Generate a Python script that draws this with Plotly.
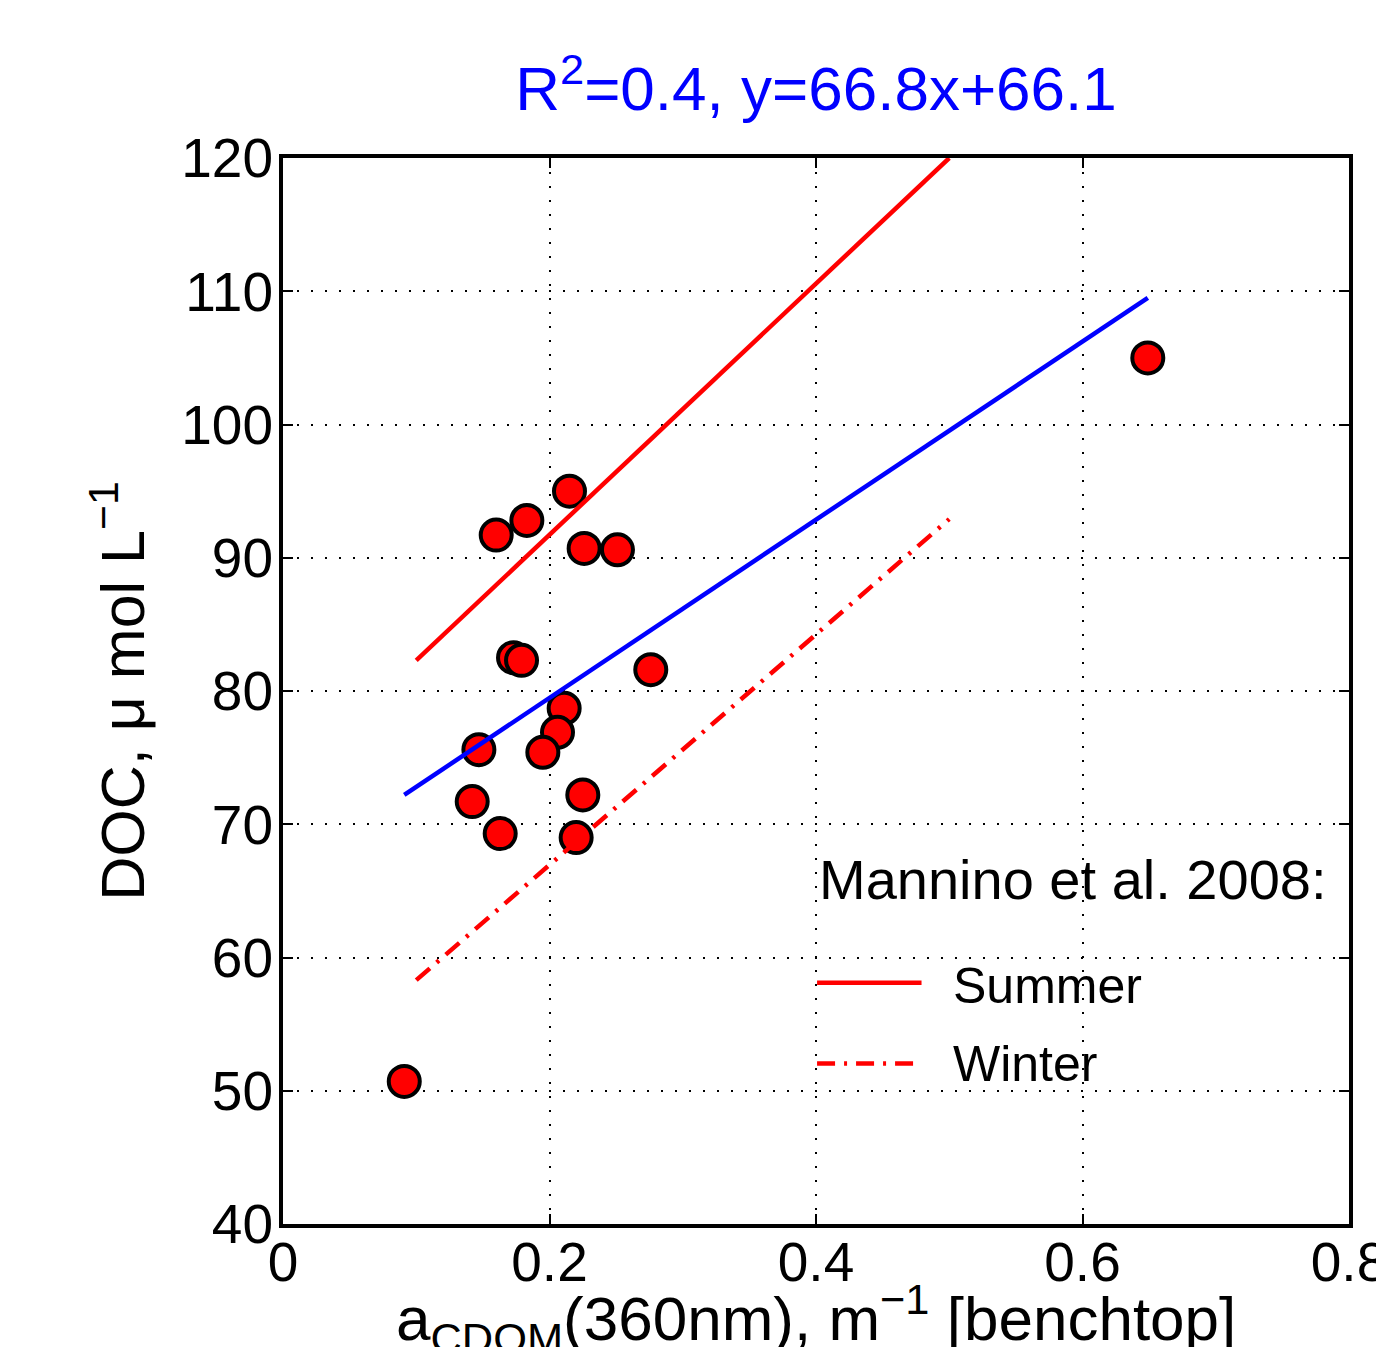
import plotly.graph_objects as go

# Observed data: a_CDOM(360nm) [m^-1] vs DOC [umol/L]
acdom = [0.091, 0.649, 0.215, 0.160, 0.183, 0.226, 0.251, 0.173, 0.179, 0.276,
         0.211, 0.206, 0.195, 0.147, 0.142, 0.225, 0.163, 0.220]
doc = [50.7, 105.0, 95.0, 91.7, 92.8, 90.7, 90.6, 82.5, 82.3, 81.6,
       78.7, 76.9, 75.4, 75.6, 71.7, 72.2, 69.3, 69.0]

# Regression line endpoints (y = 66.8x + 66.1)
fit_x = [0.091, 0.649]
fit_y = [72.2, 109.5]

# Mannino et al. 2008 relationships
mannino_x = [0.1, 0.5]
summer_y = [82.3, 120.0]
winter_y = [58.3, 92.9]

x_ticks = [0, 0.2, 0.4, 0.6, 0.8]
x_ticklabels = ["0", "0.2", "0.4", "0.6", "0.8"]
y_ticks = [40, 50, 60, 70, 80, 90, 100, 110, 120]

FONT = "Liberation Sans, Arial, Helvetica, sans-serif"
DASHDOT = "18px,9px,3px,9px"

# page has an 8px body margin; figure size compensates for it
W, H = 1376, 1339

fig = go.Figure()
fig.add_trace(go.Scatter(
    x=acdom, y=doc, mode="markers", name="Data", showlegend=False,
    marker=dict(size=31, color="#ff0000", line=dict(color="black", width=4)),
))
fig.add_trace(go.Scatter(
    x=mannino_x, y=summer_y, mode="lines", name="Summer", showlegend=False,
    line=dict(color="#ff0000", width=4.5),
))
fig.add_trace(go.Scatter(
    x=mannino_x, y=winter_y, mode="lines", name="Winter", showlegend=False,
    line=dict(color="#ff0000", width=4.5, dash=DASHDOT),
))
fig.add_trace(go.Scatter(
    x=fit_x, y=fit_y, mode="lines", name="Fit", showlegend=False,
    line=dict(color="#0000ff", width=4.5),
))

axis_common = dict(
    showline=True, linecolor="black", linewidth=4, mirror="ticks",
    ticks="inside", ticklen=10, tickwidth=2, tickcolor="black",
    showgrid=True, gridcolor="black", gridwidth=2, griddash="2px,12px",
    zeroline=False, tickfont=dict(size=55, color="black", family=FONT),
    ticklabeloverflow="allow",
)

fig.update_xaxes(
    range=[0, 0.8], tickvals=x_ticks, ticktext=x_ticklabels,
    ticklabelstandoff=-13,
    **axis_common,
)
fig.update_yaxes(
    range=[40, 120], tickvals=y_ticks,
    ticklabelstandoff=-5,
    title=dict(text="DOC, \u03bc mol L<sup>\u22121</sup>",
               font=dict(size=61, color="black", family=FONT), standoff=18),
    **axis_common,
)

# x-axis title (placed as annotation so it can sit partly below the page edge)
fig.add_annotation(x=0.5, y=-0.1315, xref="paper", yref="paper",
                   text="a<sub>CDOM</sub>(360nm), m<sup>\u22121</sup> [benchtop]",
                   showarrow=False, xanchor="center", yanchor="bottom",
                   font=dict(size=62, color="black", family=FONT))

# Legend (drawn in paper coordinates)
legend_font = dict(size=50, color="black", family=FONT)
fig.add_annotation(x=0.501, y=0.3234, xref="paper", yref="paper",
                   text="Mannino et al. 2008:", showarrow=False,
                   xanchor="left", yanchor="middle",
                   font=dict(size=56, color="black", family=FONT))
fig.add_shape(type="line", xref="paper", yref="paper",
              x0=0.501, x1=0.599, y0=0.2262, y1=0.2262,
              line=dict(color="#ff0000", width=4.5))
fig.add_shape(type="line", xref="paper", yref="paper",
              x0=0.501, x1=0.599, y0=0.1505, y1=0.1505,
              line=dict(color="#ff0000", width=4.5, dash=DASHDOT))
fig.add_annotation(x=0.627, y=0.2232, xref="paper", yref="paper",
                   text="Summer", showarrow=False, xanchor="left", yanchor="middle",
                   font=legend_font)
fig.add_annotation(x=0.627, y=0.1505, xref="paper", yref="paper",
                   text="Winter", showarrow=False, xanchor="left", yanchor="middle",
                   font=legend_font)

fig.update_layout(
    width=W, height=H,
    margin=dict(l=275, r=35, t=150, b=123, autoexpand=False),
    paper_bgcolor="white", plot_bgcolor="white",
    showlegend=False,
    title=dict(text="R<sup>2</sup>=0.4, y=66.8x+66.1",
               font=dict(size=62, color="#0000ff", family=FONT),
               x=0.5, xref="paper", xanchor="center",
               y=1 - 80 / H, yref="container", yanchor="middle"),
    font=dict(family=FONT, color="black"),
)

fig.write_html("out.html")
